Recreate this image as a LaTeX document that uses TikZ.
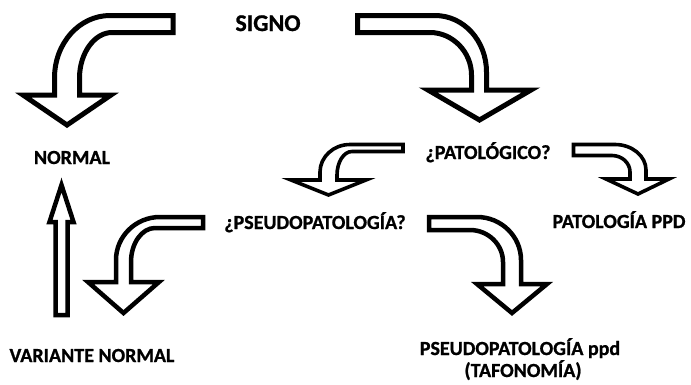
\documentclass[tikz,border=0pt]{standalone}
\usepackage{fontspec}
\setmainfont{Carlito}[BoldFeatures={FakeBold=1}]
\tikzset{
  barrow/.style={draw=black, fill=white, line width=5pt, line join=miter},
  sarrow/.style={draw=black, fill=white, line width=3.6pt, line join=miter},
  marrow/.style={draw=black, fill=white, line width=4.5pt, line join=miter},
  lbl/.style={font=\fontsize{20}{24}\selectfont\bfseries, inner sep=0pt, anchor=base, text=black},
}
\begin{document}
\begin{tikzpicture}[x=1pt,y=-1pt]
\useasboundingbox (0,0) rectangle (691,384);
% labels
\node[lbl, font=\fontsize{24}{28}\selectfont\bfseries] (signo) at (268,31) {SIGNO};
\node[lbl] (normal) at (72,164) {NORMAL};
\node[lbl] (pat) at (488,159) {¿PATOLÓGICO?};
\node[lbl] (pseudo) at (315,229) {¿PSEUDOPATOLOGÍA?};
\node[lbl] (ppd) at (619,228) {PATOLOGÍA PPD};
\node[lbl] (var) at (92,362) {VARIANTE NORMAL};
\node[lbl] (pppd) at (520,355) {PSEUDOPATOLOGÍA ppd};
\node[lbl] (taf) at (523,377) {(TAFONOMÍA)};
% arrow 1: SIGNO -> NORMAL
\draw[barrow] (173,15.5) -- (110,15.5) .. controls (79.2,15.5) and (54.5,43.35) .. (54.5,78)
  -- (54.5,95) -- (23,95) -- (67,125) -- (111,95) -- (79.5,95) -- (79.5,78)
  .. controls (79.5,53.25) and (94.4,32.5) .. (112,32.5) -- (173,32.5) -- cycle;
% arrow 2: SIGNO -> PATOLOGICO
\draw[barrow] (357.5,15.5) -- (435,15.5) .. controls (463.6,15.5) and (486.5,40.65) .. (486.5,72)
  -- (486.5,90) -- (531,90) -- (479.5,120) -- (428,90) -- (471.5,90) -- (471.5,75)
  .. controls (471.5,51.9) and (452.55,32.5) .. (430,32.5) -- (357.5,32.5) -- cycle;
% arrow 3: PATOLOGICO -> PSEUDO
\draw[sarrow] (403,144.5) -- (350,144.5) .. controls (333.5,144.5) and (320,156.9) .. (320,172)
  -- (320,180) -- (291,180) -- (328.5,195) -- (366,180) -- (337,180) -- (337,175)
  .. controls (337,162.1) and (343.75,151.5) .. (352,151.5) -- (403,151.5) -- cycle;
% arrow 4: PATOLOGICO -> PATOLOGIA PPD
\draw[sarrow] (573.5,144.5) -- (615,144.5) .. controls (632.05,144.5) and (646,155.975) .. (646,170)
  -- (646,179) -- (669,179) -- (638,194) -- (606,179) -- (630,179) -- (630,172)
  .. controls (630,162.925) and (621.9,155.5) .. (612,155.5) -- (573.5,155.5) -- cycle;
% arrow 5: PSEUDO -> VARIANTE
\draw[marrow] (203,217) -- (160,217) .. controls (135.8,217) and (116,236.35) .. (116,260)
  -- (116,282) -- (88,282) -- (123.5,313) -- (159,282) -- (131,282) -- (131,262)
  .. controls (131,243.3) and (141.8,228) .. (155,228) -- (203,228) -- cycle;
% arrow 6: PSEUDO -> PSEUDOPATOLOGIA ppd
\draw[marrow] (429,217) -- (477,217) .. controls (501.2,217) and (521,236.35) .. (521,260)
  -- (521,284) -- (547,284) -- (512,313) -- (477,284) -- (503,284) -- (503,262)
  .. controls (503,244.4) and (488.15,230) .. (470,230) -- (429,230) -- cycle;
% arrow 7: VARIANTE -> NORMAL
\draw[marrow] (55.5,315) -- (55.5,222) -- (49.5,222) -- (61.5,185) -- (73.5,222) -- (67.5,222) -- (67.5,315) -- cycle;
\end{tikzpicture}
\end{document}
